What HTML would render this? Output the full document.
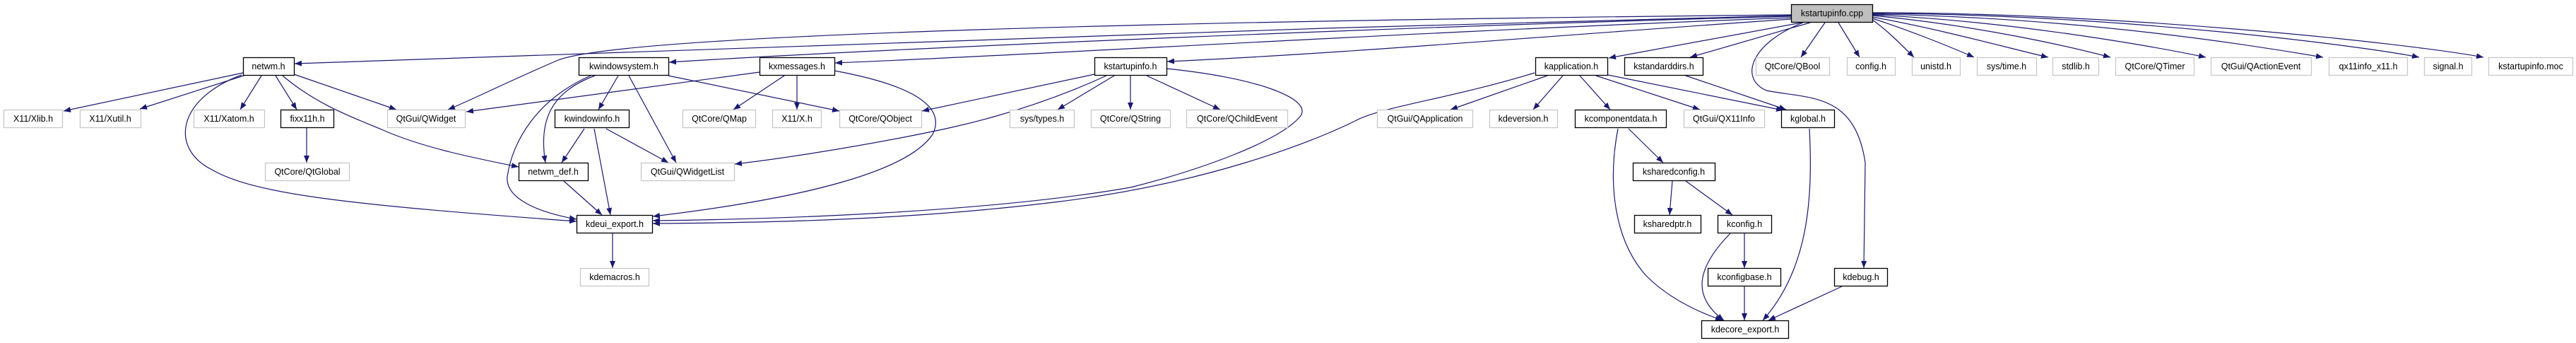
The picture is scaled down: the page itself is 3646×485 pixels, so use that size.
<!DOCTYPE html>
<html><head><meta charset="utf-8"><style>
html,body{margin:0;padding:0;background:#fff;}
svg{display:block;}
text{font-family:"Liberation Sans",sans-serif;font-size:12.5px;fill:#000;}
</style></head><body>
<svg width="3646" height="485" viewBox="0 0 3646 485" xmlns="http://www.w3.org/2000/svg">
<defs>
<marker id="a" markerUnits="userSpaceOnUse" markerWidth="11" markerHeight="8" refX="10" refY="4" orient="auto">
<path d="M0,0 L10,4 L0,8 z" fill="#191970"/>
</marker>
</defs>
<g fill="none" stroke="#191970" stroke-width="1.2" marker-end="url(#a)">
<!-- root edges -->
<path d="M2535,22 C1800,40 900,70 417,90"/>
<path d="M2535,21 C1600,30 880,50 790,85 C720,115 670,140 634,155"/>
<path d="M2535,23 C1900,40 1200,72 947,88"/>
<path d="M2535,25 C2000,45 1500,76 1182,89"/>
<path d="M2535,27 C2200,50 1900,76 1652,87"/>
<path d="M2550,32 L2277,82"/>
<path d="M2562,32 L2392,81"/>
<path d="M2583,32 L2549,81"/>
<path d="M2602,32 L2632,81"/>
<path d="M2552,32 C2480,60 2460,110 2500,128 C2560,140 2625,130 2640,230 L2638,379"/>
<path d="M2650,28 C2670,42 2690,62 2709,81"/>
<path d="M2650,26 C2700,42 2760,66 2794,81"/>
<path d="M2650,24 C2750,42 2850,70 2899,81"/>
<path d="M2650,22 C2800,36 2930,66 2987,81"/>
<path d="M2650,21 C2850,30 3050,66 3122,81"/>
<path d="M2650,20 C2950,25 3200,66 3288,81"/>
<path d="M2650,19 C3000,20 3350,66 3424,81"/>
<path d="M2650,18 C3000,18 3400,60 3515,81"/>
<!-- netwm -->
<path d="M344,103 L90,157"/>
<path d="M348,106 L198,154"/>
<path d="M370,107 L340,155"/>
<path d="M390,107 L420,155"/>
<path d="M416,105 L561,155"/>
<path d="M400,107 C450,150 510,170 540,183 C600,210 680,225 734,236"/>
<path d="M342,106 C250,140 240,210 300,240 C360,275 500,290 816,313"/>
<path d="M434,181 L434,230"/>
<!-- kwindowsystem -->
<path d="M875,107 L847,155"/>
<path d="M890,107 L957,230"/>
<path d="M946,107 L1188,157"/>
<path d="M842,107 C780,130 762,170 772,230"/>
<path d="M836,107 C760,140 725,200 718,250 C715,280 760,300 816,310"/>
<!-- kwindowinfo -->
<path d="M827,182 L795,230"/>
<path d="M841,182 L864,304"/>
<path d="M858,182 L946,230"/>
<path d="M798,256 L852,304"/>
<path d="M867,330 L867,379"/>
<!-- kxmessages -->
<path d="M1075,102 L660,158"/>
<path d="M1110,107 L1038,155"/>
<path d="M1128,107 L1128,155"/>
<path d="M1181,100 C1290,120 1340,150 1320,190 C1280,250 1100,285 924,306"/>
<!-- kstartupinfo.h -->
<path d="M1549,105 L1305,157"/>
<path d="M1566,107 C1450,160 1350,180 1300,190 C1200,210 1100,225 1040,232"/>
<path d="M1577,107 L1497,155"/>
<path d="M1600,107 L1600,155"/>
<path d="M1623,107 L1727,155"/>
<path d="M1651,97 C1780,110 1860,140 1840,165 C1810,200 1700,240 1600,265 C1400,300 1100,310 924,312"/>
<!-- kapplication -->
<path d="M2172,103 C2050,140 1960,150 1920,170 C1850,205 1700,260 1500,285 C1300,310 1100,315 924,316"/>
<path d="M2190,107 L2053,155"/>
<path d="M2212,107 L2170,155"/>
<path d="M2236,107 L2279,155"/>
<path d="M2259,107 L2406,155"/>
<path d="M2276,106 L2524,156"/>
<path d="M2386,107 L2528,155"/>
<!-- kcomponentdata etc -->
<path d="M2305,182 L2354,230"/>
<path d="M2290,182 C2275,260 2285,340 2330,390 C2360,420 2400,440 2438,453"/>
<path d="M2367,256 L2363,304"/>
<path d="M2386,256 L2452,304"/>
<path d="M2469,330 L2469,379"/>
<path d="M2449,330 C2400,380 2395,420 2440,453"/>
<path d="M2469,405 L2469,453"/>
<path d="M2561,182 C2566,280 2560,380 2495,453"/>
<path d="M2607,405 L2503,453"/>
</g>
<g stroke-width="1.3">
<!-- root -->
<rect x="2535.5" y="6.5" width="115" height="25" fill="#bfbfbf" stroke="#000"/>
<g fill="#fff" stroke="#000">
<rect x="344.5" y="81.5" width="72" height="25"/>
<rect x="819.5" y="81.5" width="127" height="25"/>
<rect x="1075.5" y="81.5" width="106" height="25"/>
<rect x="1549.5" y="81.5" width="102" height="25"/>
<rect x="2173.5" y="81.5" width="102" height="25"/>
<rect x="2299.5" y="81.5" width="111" height="25"/>
<rect x="397.5" y="155.5" width="75" height="25"/>
<rect x="785.5" y="155.5" width="105" height="25"/>
<rect x="2229.5" y="155.5" width="129" height="25"/>
<rect x="2521.5" y="155.5" width="75" height="25"/>
<rect x="734.5" y="230.5" width="98" height="25"/>
<rect x="2311.5" y="230.5" width="116" height="25"/>
<rect x="816.5" y="304.5" width="107" height="25"/>
<rect x="2313.5" y="304.5" width="94" height="25"/>
<rect x="2431.5" y="304.5" width="76" height="25"/>
<rect x="2417.5" y="379.5" width="103" height="25"/>
<rect x="2596.5" y="379.5" width="75" height="25"/>
<rect x="2408.5" y="453.5" width="123" height="25"/>
</g>
<g fill="#fff" stroke="#c8c8c8">
<rect x="2485.5" y="81.5" width="104" height="25"/>
<rect x="2614.5" y="81.5" width="68" height="25"/>
<rect x="2706.5" y="81.5" width="68" height="25"/>
<rect x="2798.5" y="81.5" width="84" height="25"/>
<rect x="2905.5" y="81.5" width="65" height="25"/>
<rect x="2994.5" y="81.5" width="111" height="25"/>
<rect x="3129.5" y="81.5" width="142" height="25"/>
<rect x="3296.5" y="81.5" width="111" height="25"/>
<rect x="3431.5" y="81.5" width="67" height="25"/>
<rect x="3522.5" y="81.5" width="119" height="25"/>
<rect x="5.5" y="155.5" width="83" height="25"/>
<rect x="113.5" y="155.5" width="86" height="25"/>
<rect x="274.5" y="155.5" width="100" height="25"/>
<rect x="548.5" y="155.5" width="110" height="25"/>
<rect x="966.5" y="155.5" width="103" height="25"/>
<rect x="1093.5" y="155.5" width="69" height="25"/>
<rect x="1188.5" y="155.5" width="116" height="25"/>
<rect x="1429.5" y="155.5" width="91" height="25"/>
<rect x="1544.5" y="155.5" width="112" height="25"/>
<rect x="1679.5" y="155.5" width="143" height="25"/>
<rect x="1949.5" y="155.5" width="135" height="25"/>
<rect x="2108.5" y="155.5" width="96" height="25"/>
<rect x="2383.5" y="155.5" width="114" height="25"/>
<rect x="375.5" y="230.5" width="119" height="25"/>
<rect x="907.5" y="230.5" width="132" height="25"/>
<rect x="821.5" y="379.5" width="97" height="25"/>
</g>
</g>
<g text-anchor="middle">
<text x="2593" y="23">kstartupinfo.cpp</text>
<text x="380" y="98">netwm.h</text>
<text x="883" y="98">kwindowsystem.h</text>
<text x="1128" y="98">kxmessages.h</text>
<text x="1600" y="98">kstartupinfo.h</text>
<text x="2224" y="98">kapplication.h</text>
<text x="2355" y="98">kstandarddirs.h</text>
<text x="2537" y="98">QtCore/QBool</text>
<text x="2648" y="98">config.h</text>
<text x="2740" y="98">unistd.h</text>
<text x="2840" y="98">sys/time.h</text>
<text x="2938" y="98">stdlib.h</text>
<text x="3050" y="98">QtCore/QTimer</text>
<text x="3200" y="98">QtGui/QActionEvent</text>
<text x="3352" y="98">qx11info_x11.h</text>
<text x="3465" y="98">signal.h</text>
<text x="3582" y="98">kstartupinfo.moc</text>
<text x="47" y="172">X11/Xlib.h</text>
<text x="156" y="172">X11/Xutil.h</text>
<text x="324" y="172">X11/Xatom.h</text>
<text x="435" y="172">fixx11h.h</text>
<text x="603" y="172">QtGui/QWidget</text>
<text x="838" y="172">kwindowinfo.h</text>
<text x="1018" y="172">QtCore/QMap</text>
<text x="1128" y="172">X11/X.h</text>
<text x="1246" y="172">QtCore/QObject</text>
<text x="1475" y="172">sys/types.h</text>
<text x="1600" y="172">QtCore/QString</text>
<text x="1751" y="172">QtCore/QChildEvent</text>
<text x="2017" y="172">QtGui/QApplication</text>
<text x="2156" y="172">kdeversion.h</text>
<text x="2294" y="172">kcomponentdata.h</text>
<text x="2440" y="172">QtGui/QX11Info</text>
<text x="2559" y="172">kglobal.h</text>
<text x="435" y="247">QtCore/QtGlobal</text>
<text x="783" y="247">netwm_def.h</text>
<text x="973" y="247">QtGui/QWidgetList</text>
<text x="2369" y="247">ksharedconfig.h</text>
<text x="870" y="321">kdeui_export.h</text>
<text x="2360" y="321">ksharedptr.h</text>
<text x="2469" y="321">kconfig.h</text>
<text x="870" y="396">kdemacros.h</text>
<text x="2469" y="396">kconfigbase.h</text>
<text x="2634" y="396">kdebug.h</text>
<text x="2470" y="470">kdecore_export.h</text>
</g>
</svg>
</body></html>
